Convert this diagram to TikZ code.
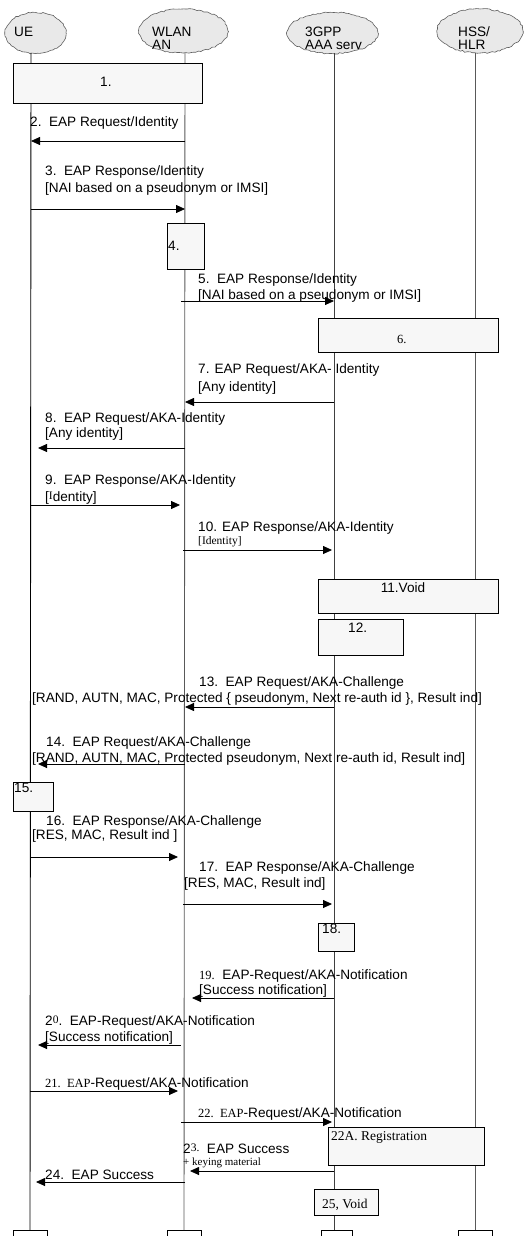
\documentclass[tikz,border=0pt]{standalone}
\usepackage{fontspec}
\setmainfont{Liberation Sans}
\newfontfamily\serif{Liberation Serif}
\usetikzlibrary{arrows.meta,shapes.geometric,decorations.pathmorphing}
\begin{document}
\begin{tikzpicture}[x=1pt,y=-1pt,
  lbl/.style={anchor=base west,inner sep=0pt,font=\fontsize{13.6}{15}\selectfont},
  sml/.style={anchor=base west,inner sep=0pt,font=\serif\fontsize{11.5}{12}\selectfont},
  cloudhead/.style={ellipse,draw=gray!75!black,fill=gray!17,line width=0.6pt,inner sep=0pt,
    decorate,decoration={random steps,segment length=2.5pt,amplitude=0.7pt}},
  procbox/.style={draw,fill=gray!6,line width=0.8pt,inner sep=0pt,outer sep=0pt},
  endbox/.style={draw,fill=white,line width=0.8pt,inner sep=0pt,outer sep=0pt,minimum height=14},
  msg/.style={-{Triangle[length=9pt,width=8pt]},line width=0.8pt},
  life/.style={line width=0.9pt}]
\useasboundingbox (0,0) rectangle (526,1236);
% clouds
\node[cloudhead,minimum width=61,minimum height=41] (cue) at (35.5,33) {};
\node[cloudhead,minimum width=89,minimum height=44] (cwl) at (183.5,31) {};
\node[cloudhead,minimum width=91,minimum height=41] (caa) at (332.5,33) {};
\node[cloudhead,minimum width=86,minimum height=44] (chs) at (480,31) {};
\coordinate (ue) at (31,53);
\coordinate (wl) at (185,53);
\coordinate (aa) at (334,53);
\coordinate (hs) at (475,53);
% bottom boxes
\node[endbox,minimum width=34] (eue) at (30,1237) {};
\node[endbox,minimum width=34] (ewl) at (184,1237) {};
\node[endbox,minimum width=31] (eaa) at (336.5,1237) {};
\node[endbox,minimum width=34] (ehs) at (475,1237) {};
% lifelines
\draw[life,black] (ue) -- (eue.north);
\draw[life,gray!70!black] (wl) -- (ewl.north);
\draw[life,black!75] (aa) -- (aa |- eaa.north);
\draw[life,gray!70!black] (hs) -- (ehs.north);
% header texts
\node[lbl] (tue) at (14,37) {UE};
\node[lbl] (twl1) at (152,37) {WLAN};
\node[lbl] (twl2) at (152,50) {AN};
\node[lbl] (taa1) at (305,37) {3GPP};
\node[lbl] (taa2) at (305,50) {AAA serv};
\node[lbl] (ths1) at (458,37) {HSS/};
\node[lbl] (ths2) at (458,50) {HLR};
% process boxes
\node[procbox,minimum width=189,minimum height=40] (b1) at (107.5,83) {};
\node[procbox,minimum width=37,minimum height=46] (b4) at (185.5,246) {};
\node[procbox,minimum width=180,minimum height=34] (b6) at (408,335) {};
\node[procbox,minimum width=180,minimum height=34] (b11) at (408,596) {};
\node[procbox,minimum width=85,minimum height=36] (b12) at (360.5,637) {};
\node[procbox,minimum width=40,minimum height=29] (b15) at (33,796.5) {};
\node[procbox,minimum width=36,minimum height=28] (b18) at (336,937) {};
\node[procbox,minimum width=156,minimum height=38] (b22) at (406,1146) {};
\node[procbox,minimum width=64,minimum height=26] (b25) at (346,1202) {};
% messages
\draw[msg] (wl |- 0,141) -- (ue |- 0,141);
\draw[msg] (ue |- 0,209) -- (wl |- 0,209);
\draw[msg] ([xshift=-4pt]wl |- 0,301) -- (aa |- 0,301);
\draw[msg] (aa |- 0,402) -- (wl |- 0,402);
\draw[msg,shorten >=7pt] (wl |- 0,448) -- (ue |- 0,448);
\draw[msg,shorten >=5pt] (ue |- 0,505) -- (wl |- 0,505);
\draw[msg,shorten >=2pt] ([xshift=-2pt]wl |- 0,550) -- (aa |- 0,550);
\draw[msg] (aa |- 0,707) -- (wl |- 0,707);
\draw[msg,shorten >=7pt] (wl |- 0,764) -- (ue |- 0,764);
\draw[msg,shorten >=7pt] ([xshift=-1pt]ue |- 0,857) -- (wl |- 0,857);
\draw[msg,shorten >=2pt] ([xshift=-2pt]wl |- 0,904) -- (aa |- 0,904);
\draw[msg,shorten >=7pt] (aa |- 0,998) -- (wl |- 0,998);
\draw[msg,shorten >=7pt] ([xshift=-4pt]wl |- 0,1045) -- (ue |- 0,1045);
\draw[msg,shorten >=7pt] ([xshift=-1pt]ue |- 0,1091) -- (wl |- 0,1091);
\draw[msg,shorten >=2pt] ([xshift=-4pt]wl |- 0,1122) -- (aa |- 0,1122);
\draw[msg,shorten >=5pt] (aa |- 0,1171) -- (wl |- 0,1171);
\draw[msg,shorten >=5pt] (wl |- 0,1182) -- (ue |- 0,1182);
% labels
\node[lbl] (t1) at (100,87) {1.};
\node[lbl] (t2) at (30,127) {2.\ \ EAP Request/Identity};
\node[lbl] (t3a) at (45,175) {3.\ \ EAP Response/Identity};
\node[lbl] (t3b) at (45,192) {[NAI based on a pseudonym or IMSI]};
\node[lbl] (t4) at (168,250) {4.};
\node[lbl] (t5a) at (198,283) {5.\ \ EAP Response/Identity};
\node[lbl] (t5b) at (198,299) {[NAI based on a pseudonym or IMSI]};
\node[lbl,font=\serif\fontsize{12.5}{14}\selectfont] (t6) at (397,343) {6.};
\node[lbl] (t7a) at (198,373) {7. EAP Request/AKA- Identity};
\node[lbl] (t7b) at (198,391) {[Any identity]};
\node[lbl] (t8a) at (45,422) {8.\ \ EAP Request/AKA-Identity};
\node[lbl] (t8b) at (45,437) {[Any identity]};
\node[lbl] (t9a) at (45,484) {9.\ \ EAP Response/AKA-Identity};
\node[lbl] (t9b) at (45,501) {[\raisebox{1.5pt}{\serif\fontsize{11.5}{12}\selectfont I}dentity]};
\node[lbl] (t10a) at (198,531) {10. EAP Response/AKA-Identity};
\node[sml] (t10b) at (198,544) {[Identity]};
\node[lbl,anchor=base] (t11) at (403,592) {11.Void};
\node[lbl] (t12) at (348,632) {12.};
\node[lbl] (t13a) at (199,686) {13.\ \ EAP Request/AKA-Challenge};
\node[lbl] (t13b) at (32,702) {[RAND, AUTN, MAC, Protected \{ pseudonym, Next re-auth id \}, Result ind]};
\node[lbl] (t14a) at (46,746) {14.\ \ EAP Request/AKA-Challenge};
\node[lbl] (t14b) at (32,762) {[RAND, AUTN, MAC, Protected pseudonym, Next re-auth id, Result ind]};
\node[lbl] (t15) at (14,792) {15.};
\node[lbl] (t16a) at (46,825) {16.\ \ EAP Response/AKA-Challenge};
\node[lbl] (t16b) at (32,839) {[RES, MAC, Result ind ]};
\node[lbl] (t17a) at (199,871) {17.\ \ EAP Response/AKA-Challenge};
\node[lbl] (t17b) at (184,887) {[RES, MAC, Result ind]};
\node[lbl] (t18) at (322,933) {18.};
\node[lbl] (t19a) at (199,979) {{\serif\fontsize{12.5}{14}\selectfont 19.}\ \ EAP-Request/AKA-Notification};
\node[lbl] (t19b) at (199,994) {[Success notification]};
\node[lbl] (t20a) at (45,1025) {2\raisebox{1.5pt}{\serif\fontsize{11.5}{12}\selectfont 0}.\ \ EAP-Request/AKA-Notification};
\node[lbl] (t20b) at (45,1041) {[Success notification]};
\node[lbl] (t21) at (45,1087) {{\serif\fontsize{12.5}{14}\selectfont 21.\ \ EAP}-Request/AKA-Notification};
\node[lbl] (t22) at (198,1117) {{\serif\fontsize{12.5}{14}\selectfont 22.\ \ EAP}-Request/AKA-Notification};
\node[lbl,font=\serif\fontsize{13.5}{15}\selectfont] (t22a) at (331,1140) {22A. Registration};
\node[lbl] (t23a) at (183,1153) {2\raisebox{1.5pt}{\serif\fontsize{11.5}{12}\selectfont 3.}\ \ EAP Success};
\node[sml,font=\serif\fontsize{11}{12}\selectfont] (t23b) at (183,1165) {+ keying material};
\node[lbl] (t24) at (45,1179) {24.\ \ EAP Success};
\node[lbl,font=\serif\fontsize{13.5}{15}\selectfont] (t25) at (322,1208) {25, Void};
\end{tikzpicture}
\end{document}
